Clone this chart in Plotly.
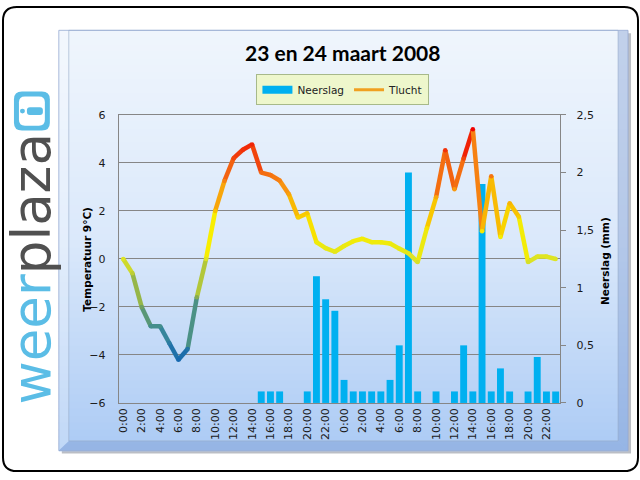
import plotly.graph_objects as go
import numpy as np

# ---- data ----
hour_labels = [f"{h}:00" for h in range(24)] * 2
temperature = [0.0, -0.6, -2.0, -2.8, -2.8, -3.5, -4.2, -3.75, -1.6, 0.0, 2.0, 3.25,
               4.2, 4.55, 4.77, 3.6, 3.5, 3.27, 2.7, 1.73, 1.9, 0.7, 0.45, 0.3,
               0.54, 0.74, 0.84, 0.7, 0.7, 0.64, 0.43, 0.24, -0.13, 1.28, 2.57, 4.53,
               2.9, 4.19, 5.4, 1.15, 3.45, 0.92, 2.32, 1.76, -0.13, 0.1, 0.1, 0.0]
rain = [0, 0, 0, 0, 0, 0, 0, 0, 0, 0, 0, 0,
        0, 0, 0, 0.1, 0.1, 0.1, 0, 0, 0.1, 1.1, 0.9, 0.8,
        0.2, 0.1, 0.1, 0.1, 0.1, 0.2, 0.5, 2.0, 0.1, 0, 0.1, 0,
        0.1, 0.5, 0.1, 1.9, 0.1, 0.3, 0.1, 0, 0.1, 0.4, 0.1, 0.1]
tick_idx = list(range(0, 48, 2))
title = "23 en 24 maart 2008"

W, H = 640, 480
def px(x): return x / W
def py(y): return 1 - y / H

# temperature -> colour mapping (gradient line)
stop_t = [-4.2, -3.0, -2.0, -1.0, 0.0, 1.0, 2.0, 3.0, 4.0, 5.4]
stop_c = ["#1668b0", "#3a8a98", "#6fa060", "#a8c040", "#dde424", "#f8ee00",
          "#f8c400", "#f89412", "#f25010", "#f00000"]
def hex2rgb(h): return [int(h[i:i+2], 16) for i in (1, 3, 5)]
rgbs = np.array([hex2rgb(c) for c in stop_c])
def tcolor(t):
    r = [int(np.interp(t, stop_t, rgbs[:, k])) for k in range(3)]
    return f"rgb({r[0]},{r[1]},{r[2]})"

x = list(range(len(hour_labels)))
fig = go.Figure()

# rain bars (primary y, right side)
fig.add_trace(go.Bar(x=x, y=rain, name="Neerslag", marker_color="#00b0f0",
                     marker_line_width=0, width=0.75, yaxis="y", showlegend=False))
fig.add_trace(go.Scatter(x=[None], y=[None], mode="lines", name="Neerslag",
                         line=dict(color="#00b0f0", width=8), yaxis="y"))

# temperature line segments (y2, left side, drawn on top)
for i in range(len(x) - 1):
    c = tcolor((temperature[i] + temperature[i + 1]) / 2)
    fig.add_trace(go.Scatter(x=[x[i], x[i + 1]], y=[temperature[i], temperature[i + 1]],
                             mode="lines", line=dict(color=c, width=4.5),
                             showlegend=False, hoverinfo="skip", yaxis="y2"))
fig.add_trace(go.Scatter(x=x, y=temperature, mode="markers",
                         marker=dict(size=4.5, color=[tcolor(t) for t in temperature]),
                         showlegend=False, yaxis="y2"))
# legend entry for line
fig.add_trace(go.Scatter(x=[None], y=[None], mode="lines", name="Tlucht",
                         line=dict(color="#f0a020", width=3), yaxis="y2"))

shapes = []
# outer white rounded frame
r = 14
x0, y0, x1, y1 = 1, 1, 638, 478
path = (f"M {px(x0+r)},{py(y0)} L {px(x1-r)},{py(y0)} Q {px(x1)},{py(y0)} {px(x1)},{py(y0+r)} "
        f"L {px(x1)},{py(y1-r)} Q {px(x1)},{py(y1)} {px(x1-r)},{py(y1)} "
        f"L {px(x0+r)},{py(y1)} Q {px(x0)},{py(y1)} {px(x0)},{py(y1-r)} "
        f"L {px(x0)},{py(y0+r)} Q {px(x0)},{py(y0)} {px(x0+r)},{py(y0)} Z")
shapes.append(dict(type="path", xref="paper", yref="paper", path=path,
                   line=dict(color="black", width=2), fillcolor="white", layer="below"))
# panel shadow
shapes.append(dict(type="rect", xref="paper", yref="paper", x0=px(60), x1=px(631),
                   y0=py(28), y1=py(460), line_width=0, fillcolor="rgba(60,70,90,0.35)",
                   layer="below"))
# panel gradient
top_c = np.array([240, 246, 253]); mid_c = np.array([219, 233, 251]); bot_c = np.array([172, 203, 245])
N = 60
ptop, pbot = 25, 457
for k in range(N):
    ya = ptop + (pbot - ptop) * k / N
    yb = ptop + (pbot - ptop) * (k + 1) / N
    f = (k + 0.5) / N
    if f < 0.5:
        c = top_c + (mid_c - top_c) * (f / 0.5)
    else:
        c = mid_c + (bot_c - mid_c) * ((f - 0.5) / 0.5)
    shapes.append(dict(type="rect", xref="paper", yref="paper", x0=px(57), x1=px(628),
                       y0=py(ya), y1=py(yb + 0.6), line_width=0,
                       fillcolor=f"rgb({int(c[0])},{int(c[1])},{int(c[2])})", layer="below"))
# bevel bands
bev = [
    (f"M {px(618)},{py(25)} L {px(628)},{py(25)} L {px(628)},{py(457)} L {px(618)},{py(447)} Z", "rgba(110,140,200,0.35)"),
    (f"M {px(57)},{py(457)} L {px(628)},{py(457)} L {px(618)},{py(447)} L {px(67)},{py(447)} Z", "rgba(110,140,200,0.35)"),
    (f"M {px(57)},{py(25)} L {px(67)},{py(25)} L {px(67)},{py(447)} L {px(57)},{py(457)} Z", "rgba(255,255,255,0.25)"),
]
for p, c in bev:
    shapes.append(dict(type="path", xref="paper", yref="paper", path=p, line_width=0,
                       fillcolor=c, layer="below"))
shapes.append(dict(type="rect", xref="paper", yref="paper", x0=px(67), x1=px(618),
                   y0=py(25), y1=py(447), line=dict(color="rgba(150,170,200,0.6)", width=1),
                   fillcolor="rgba(0,0,0,0)", layer="below"))
shapes.append(dict(type="rect", xref="paper", yref="paper", x0=px(57), x1=px(628),
                   y0=py(25), y1=py(457), line=dict(color="rgba(150,170,210,0.8)", width=1),
                   fillcolor="rgba(0,0,0,0)", layer="below"))
# logo icon
def rrect(xa, ya, xb, yb, rr):
    return (f"M {px(xa+rr)},{py(ya)} L {px(xb-rr)},{py(ya)} Q {px(xb)},{py(ya)} {px(xb)},{py(ya+rr)} "
            f"L {px(xb)},{py(yb-rr)} Q {px(xb)},{py(yb)} {px(xb-rr)},{py(yb)} "
            f"L {px(xa+rr)},{py(yb)} Q {px(xa)},{py(yb)} {px(xa)},{py(yb-rr)} "
            f"L {px(xa)},{py(ya+rr)} Q {px(xa)},{py(ya)} {px(xa+rr)},{py(ya)} Z")
shapes.append(dict(type="path", xref="paper", yref="paper", path=rrect(12, 88, 48, 128, 8),
                   line_width=0, fillcolor="#5bbde6"))
shapes.append(dict(type="path", xref="paper", yref="paper", path=rrect(17, 93, 43, 123, 6),
                   line_width=0, fillcolor="white"))
shapes.append(dict(type="path", xref="paper", yref="paper", path=rrect(25, 104, 41, 112, 3),
                   line_width=0, fillcolor="#5bbde6"))
shapes.append(dict(type="circle", xref="paper", yref="paper", x0=px(18), x1=px(23),
                   y0=py(105.5), y1=py(110.5), line_width=0, fillcolor="#5bbde6"))

annotations = [
    dict(text=f"<b>{title}</b>", x=px(342), y=py(48), xref="paper", yref="paper", showarrow=False,
         font=dict(family="Lato", size=21, color="black"), xanchor="center", yanchor="middle"),
    dict(text="<b>Temperatuur 9°C)</b>", x=px(85), y=py(260), xref="paper", yref="paper",
         showarrow=False, textangle=-90, font=dict(family="DejaVu Sans", size=10.5, color="black"),
         xanchor="center", yanchor="middle"),
    dict(text="<b>Neerslag (mm)</b>", x=px(605), y=py(262), xref="paper", yref="paper",
         showarrow=False, textangle=-90, font=dict(family="DejaVu Sans", size=10.5, color="black"),
         xanchor="center", yanchor="middle"),
    dict(text="<span style='color:#5bbde6'>weer</span><span style='color:#505050'>plaza</span>",
         x=px(30), y=py(270), xref="paper", yref="paper", showarrow=False, textangle=-90,
         font=dict(family="DejaVu Sans", size=53), xanchor="center", yanchor="middle"),
]

tickfont = dict(family="DejaVu Sans", size=11, color="#1a1a1a")
fig.update_layout(
    width=W, height=H, margin=dict(l=0, r=0, t=0, b=0),
    paper_bgcolor="white", plot_bgcolor="#dce6f2",
    separators=", ",
    bargap=0.25, showlegend=True,
    xaxis=dict(domain=[px(117), px(560)], range=[-0.5, 47.5], tickmode="array",
               tickvals=tick_idx, ticktext=[hour_labels[i] for i in tick_idx],
               tickangle=-90, tickfont=tickfont, showgrid=False, zeroline=False,
               showline=True, linecolor="#868686", mirror=True, ticks=""),
    yaxis=dict(domain=[py(408), py(112)], range=[0, 2.5], side="right",
               tickvals=[0, 0.5, 1, 1.5, 2, 2.5], ticktext=["0", "0,5", "1", "1,5", "2", "2,5"],
               tickfont=tickfont, showgrid=False, zeroline=False, showline=True,
               linecolor="#868686", ticks="outside", ticklen=5, tickcolor="#868686",
               ticklabelstandoff=8),
    yaxis2=dict(domain=[py(408), py(112)], range=[-6, 6], side="left", overlaying="y",
                tickvals=[-6, -4, -2, 0, 2, 4, 6], tickfont=tickfont, showgrid=True,
                gridcolor="#868686", gridwidth=1, zeroline=False, showline=True,
                linecolor="#868686", ticks="", ticklabelstandoff=10),
    legend=dict(orientation="h", x=px(342), y=py(86), xanchor="center", yanchor="middle",
                bgcolor="#eef7cc", bordercolor="#a7b98a", borderwidth=1,
                font=dict(family="DejaVu Sans", size=10.5, color="#222"),
                itemwidth=30, traceorder="normal", tracegroupgap=0),
    shapes=shapes, annotations=annotations,
)

fig.write_html("out.html")
